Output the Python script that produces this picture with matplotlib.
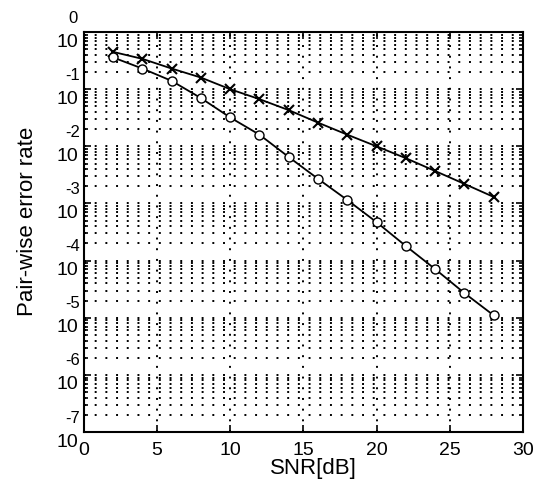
import numpy as np
import matplotlib
matplotlib.use("Agg")
from matplotlib import pyplot as plt
from matplotlib.ticker import LogLocator, NullFormatter

plt.rcParams['font.family'] = ['Liberation Sans', 'DejaVu Sans']

snr = [2, 4, 6, 8, 10, 12, 14, 16, 18, 20, 22, 24, 26, 28]
err_x = [0.45, 0.34, 0.23, 0.16, 0.10, 0.067, 0.043, 0.026, 0.016, 0.010,
         0.0062, 0.0037, 0.0022, 0.0013]
err_o = [0.36, 0.23, 0.14, 0.07, 0.032, 0.016, 0.0065, 0.0027, 0.00115,
         0.00047, 0.00018, 7.1e-5, 2.7e-5, 1.1e-5]
decades = [0, -1, -2, -3, -4, -5, -6, -7]
xticks = [0, 5, 10, 15, 20, 25, 30]

fig = plt.figure(figsize=(5.37, 4.86), dpi=100)
ax = fig.add_axes([0.156, 0.111, 0.818, 0.823])

ax.semilogy(snr, err_x, 'k-', marker='x', ms=7, mew=1.5, lw=1.3)
ax.semilogy(snr, err_o, 'k-', marker='o', ms=6.5, mfc='white', mew=1.0, lw=1.3)

ax.set_xlim(0, 30)
ax.set_ylim(1e-7, 1e0)
ax.set_xticks(xticks)
ax.set_yticks([10.0**k for k in decades])
ax.yaxis.set_minor_locator(LogLocator(base=10, subs=np.arange(2, 10), numticks=20))
ax.yaxis.set_minor_formatter(NullFormatter())
ax.set_yticklabels([])

ax.grid(True, which='both', color='k', linestyle=(0, (1, 4.5)), linewidth=1.4)
ax.tick_params(which='both', direction='in', top=True, right=True, width=1.2)
ax.tick_params(which='major', length=5, labelsize=14, pad=7)
ax.tick_params(which='minor', length=3)
for s in ax.spines.values():
    s.set_linewidth(1.5)

# MATLAB style 10 with exponent above
for k in decades:
    ax.annotate('10', xy=(0, 10.0**k), xycoords=ax.get_yaxis_transform(),
                xytext=(-6, -10), textcoords='offset pixels',
                ha='right', va='center', fontsize=14)
    ax.annotate(str(k), xy=(0, 10.0**k), xycoords=ax.get_yaxis_transform(),
                xytext=(-11, 14), textcoords='offset pixels',
                ha='center', va='center', fontsize=12)

ax.set_xlabel('SNR[dB]', fontsize=16, va='center')
ax.xaxis.set_label_coords(0.522, -0.092)
ax.set_ylabel('Pair-wise error rate', fontsize=16, va='center')
ax.yaxis.set_label_coords(-0.128, 0.527)

fig.savefig('out.png', dpi=100)
